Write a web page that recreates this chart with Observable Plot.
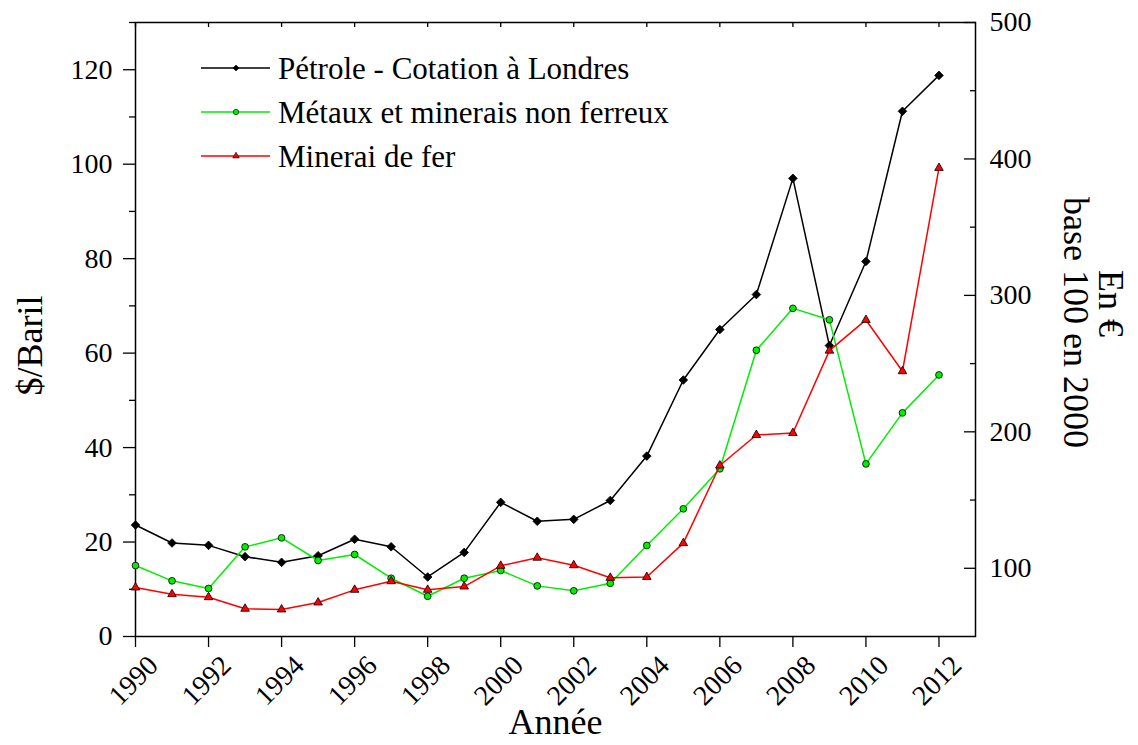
<!DOCTYPE html>
<html><head><meta charset="utf-8">
<script src="https://cdn.jsdelivr.net/npm/d3@7"></script>
<script src="https://cdn.jsdelivr.net/npm/@observablehq/plot@0.6"></script>
<style>body{margin:0;background:#fff;} svg{display:block}</style>
</head><body><div id="chart"></div>
<script>
const years = [1990,1991,1992,1993,1994,1995,1996,1997,1998,1999,2000,2001,2002,2003,2004,2005,2006,2007,2008,2009,2010,2011,2012];
const petrole = [23.6,19.8,19.3,16.9,15.7,17.1,20.6,19.0,12.6,17.8,28.4,24.4,24.8,28.8,38.2,54.3,65.0,72.4,97.0,61.6,79.4,111.2,118.8];
const metaux = [102.0,90.8,85.2,115.7,122.3,105.7,110.1,92.7,79.5,92.7,98.4,87.1,83.5,89.0,116.7,143.6,172.9,259.8,290.5,282.1,176.5,213.9,241.7];
const minerai = [85.9,81.0,78.8,70.3,69.8,74.9,84.2,90.5,84.2,86.6,101.8,107.7,102.2,93.0,93.6,118.4,175.3,197.7,199.1,259.5,282.0,244.4,393.4];

const yearTicks = [1990,1992,1994,1996,1998,2000,2002,2004,2006,2008,2010,2012];
const leftMajorTicks = [0,20,40,60,80,100,120];
const leftMinorTicks = [10,30,50,70,90,110,130];
const rightMajorTicks = [100,200,300,400,500];
const rightMinorTicks = [150,250,350,450];
const xDomain = [1990, 2013];
const leftDomain = [0, 130];
const rightDomain = [50, 500];

const seriesNames = ["Pétrole - Cotation à Londres", "Métaux et minerais non ferreux", "Minerai de fer"];
const seriesColors = ["#000000", "#00ee00", "#ff0000"];
const seriesSymbols = ["diamond2", "circle", "triangle"];
const seriesR = [3.9, 3.4, 3.2];
const legendSymbols = [d3.symbolDiamond2, d3.symbolCircle, d3.symbolTriangle];
const legendSizes = [23, 23, 19];

const leftTitle = "$/Baril";
const rightTitle1 = "En €";
const rightTitle2 = "base 100 en 2000";
const xTitle = "Année";

const FONT = "'Liberation Serif','Times New Roman',serif";
const TICK_FS = 28, TITLE_FS = 36, LEGEND_FS = 31;
const toLeft = d3.scaleLinear(rightDomain, leftDomain);

const seriesData = [
  years.map((y, i) => ({year: y, value: petrole[i]})),
  years.map((y, i) => ({year: y, value: toLeft(metaux[i])})),
  years.map((y, i) => ({year: y, value: toLeft(minerai[i])}))
];

const seriesMarks = seriesData.flatMap((data, k) => [
  Plot.line(data, {x: "year", y: "value", stroke: seriesColors[k], strokeWidth: 1.5}),
  Plot.dot(data, {x: "year", y: "value", symbol: seriesSymbols[k], r: seriesR[k], fill: seriesColors[k], stroke: "#000", strokeWidth: 0.8})
]);

const legendMark = (index, scales, values, dims) => {
  const g = d3.create("svg:g").attr("font-family", FONT).attr("font-size", LEGEND_FS)
    .attr("fill", "#000").attr("text-anchor", "start");
  seriesNames.forEach((name, i) => {
    const y = dims.marginTop + 46 + i * 44;
    const x0 = dims.marginLeft + 66;
    g.append("line").attr("x1", x0).attr("x2", x0 + 69).attr("y1", y).attr("y2", y)
      .attr("stroke", seriesColors[i]).attr("stroke-width", 1.5);
    g.append("path").attr("transform", `translate(${x0 + 35},${y})`)
      .attr("d", d3.symbol(legendSymbols[i], legendSizes[i])())
      .attr("fill", seriesColors[i]).attr("stroke", "#000").attr("stroke-width", 0.6);
    g.append("text").attr("x", x0 + 77).attr("y", y).attr("dy", "0.35em")
      .attr("text-anchor", "start").text(name);
  });
  return g.node();
};

const centered = {textAnchor: "middle", lineAnchor: "middle"};

const chart = Plot.plot({
  width: 1138,
  height: 745,
  marginLeft: 135,
  marginRight: 163,
  marginTop: 22,
  marginBottom: 109,
  style: {fontFamily: FONT, background: "#fff", color: "#000"},
  x: {domain: xDomain},
  y: {domain: leftDomain},
  marks: [
    Plot.frame({stroke: "#000", strokeWidth: 1.5}),
    Plot.axisY(leftMajorTicks, {tickSize: 12, tickPadding: 11, fontSize: TICK_FS, label: null, strokeWidth: 1.3}),
    Plot.axisY(leftMinorTicks, {tickSize: 6, tickFormat: () => "", label: null, strokeWidth: 1.3}),
    Plot.axisY(rightMajorTicks.map(toLeft), {anchor: "right", tickSize: -12, tickPadding: 26, fontSize: TICK_FS, label: null, strokeWidth: 1.3,
      tickFormat: d => String(Math.round(toLeft.invert(d)))}),
    Plot.axisY(rightMinorTicks.map(toLeft), {anchor: "right", tickSize: -6, tickFormat: () => "", label: null, strokeWidth: 1.3}),
    Plot.axisX(yearTicks, {tickSize: 11, tickFormat: () => "", label: null, strokeWidth: 1.3}),
    Plot.axisX(yearTicks, {anchor: "top", tickSize: -4, tickFormat: () => "", label: null, strokeWidth: 1.3}),
    Plot.text(yearTicks, {x: d => d, text: d => String(d), frameAnchor: "bottom", dy: 44, dx: -2, rotate: -45, fontSize: TICK_FS, ...centered}),
    Plot.text([leftTitle], {frameAnchor: "left", dx: -105, dy: 16, rotate: -90, fontSize: TITLE_FS, ...centered}),
    Plot.text([xTitle], {frameAnchor: "bottom", dy: 86, fontSize: TITLE_FS, ...centered}),
    Plot.text([rightTitle2], {frameAnchor: "right", dx: 100, dy: -7, rotate: 90, fontSize: TITLE_FS, ...centered}),
    Plot.text([rightTitle1], {frameAnchor: "right", dx: 135, dy: -26, rotate: 90, fontSize: TITLE_FS, ...centered}),
    ...seriesMarks,
    legendMark
  ]
});
document.getElementById("chart").appendChild(chart);
</script>
</body></html>
